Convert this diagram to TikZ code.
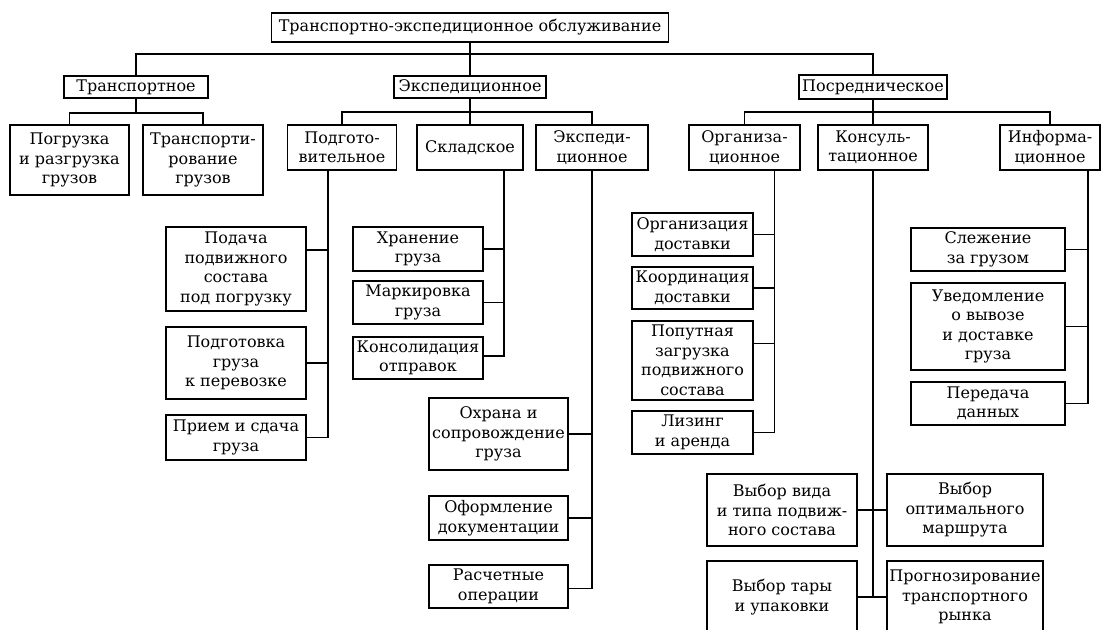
\documentclass[tikz,border=0pt]{standalone}
\usepackage{fontspec}
\setmainfont{DejaVu Serif}

\begin{document}
\begin{tikzpicture}[x=1pt, y=-1pt,
  box/.style={draw, line width=1.6pt, align=center, inner sep=1.5pt,
    font=\fontsize{16}{19.5}\selectfont},
  link/.style={line width=1.6pt}]
\useasboundingbox (0,0) rectangle (1102,629);
\clip (0,0) rectangle (1102,629);
\fill[white] (0,0) rectangle (1102,629);

\node[box, minimum width=397, minimum height=29] (root) at (470,27.5) {Транспортно-экспедиционное обслуживание};

\node[box, minimum width=144, minimum height=22] (trans) at (136,87) {Транспортное};
\node[box, minimum width=152, minimum height=22] (exped) at (470,87) {Экспедиционное};
\node[box, minimum width=148, minimum height=24] (posr) at (873,87) {Посредническое};

\node[box, minimum width=119, minimum height=70] (pogr) at (69.5,160) {Погрузка\\и разгрузка\\грузов};
\node[box, minimum width=120, minimum height=70] (perev) at (203,160) {Транспорти-\\рование\\грузов};
\node[box, minimum width=109, minimum height=45] (podg) at (342,147.5) {Подгото-\\вительное};
\node[box, minimum width=106, minimum height=45] (sklad) at (470,147.5) {Складское};
\node[box, minimum width=112, minimum height=45] (exsub) at (592,147.5) {Экспеди-\\ционное};
\node[box, minimum width=111, minimum height=45] (org) at (744.5,147.5) {Организа-\\ционное};
\node[box, minimum width=110, minimum height=45] (kons) at (873,147.5) {Консуль-\\тационное};
\node[box, minimum width=100, minimum height=45] (inf) at (1050,147.5) {Информа-\\ционное};

\node[box, minimum width=140, minimum height=84] (podacha) at (236,269) {Подача\\подвижного\\состава\\под погрузку};
\node[box, minimum width=140, minimum height=72] (podgot) at (236,363) {Подготовка\\груза\\к перевозке};
\node[box, minimum width=140, minimum height=45] (priem) at (236,437.5) {Прием и сдача\\груза};

\node[box, minimum width=130, minimum height=44] (hran) at (418,249) {Хранение\\груза};
\node[box, minimum width=130, minimum height=43] (mark) at (418,302.5) {Маркировка\\груза};
\node[box, minimum width=130, minimum height=42] (konsol) at (418,358) {Консолидация\\отправок};

\node[box, minimum width=139, minimum height=72] (ohrana) at (498.5,434) {Охрана и\\сопровождение\\груза};
\node[box, minimum width=139, minimum height=44] (oform) at (498.5,518) {Оформление\\документации};
\node[box, minimum width=139, minimum height=43] (raschet) at (498.5,586.5) {Расчетные\\операции};

\node[box, minimum width=121, minimum height=43] (orgdost) at (692.5,234.5) {Организация\\доставки};
\node[box, minimum width=121, minimum height=42] (koord) at (692.5,288) {Координация\\доставки};
\node[box, minimum width=121, minimum height=79] (poput) at (692.5,360.5) {Попутная\\загрузка\\подвижного\\состава};
\node[box, minimum width=121, minimum height=43] (lizing) at (692.5,432.5) {Лизинг\\и аренда};

\node[box, minimum width=154, minimum height=43] (slezh) at (988,249.5) {Слежение\\за грузом};
\node[box, minimum width=154, minimum height=87] (uved) at (988,326.5) {Уведомление\\о вывозе\\и доставке\\груза};
\node[box, minimum width=154, minimum height=43] (pered) at (988,403.5) {Передача\\данных};

\node[box, minimum width=150, minimum height=72] (vybvid) at (782,510) {Выбор вида\\и типа подвиж-\\ного состава};
\node[box, minimum width=156, minimum height=72] (vybopt) at (965,510) {Выбор\\оптимального\\маршрута};
\node[box, minimum width=150, minimum height=72] (vybtar) at (782,597) {Выбор тары\\и упаковки};
\node[box, minimum width=156, minimum height=72] (prognoz) at (965,597) {Прогнозирование\\транспортного\\рынка};

\coordinate (b0) at (470,54);
\draw[link] (root) -- (exped);
\draw[link] (trans.north) |- (b0) -| (posr.north);
\draw[link] (trans.south) -- ++(0,14) coordinate (b1);
\draw[link] (pogr.north) |- (b1) -| (perev.north);
\draw[link] (exped) -- (sklad);
\coordinate (b2) at (470,112);
\draw[link] (podg.north) |- (b2) -| (exsub.north);
\draw[link] (posr) -- (kons);
\coordinate (b3) at (873,112);
\draw[link] (org.north) |- (b3) -| (inf.north);

\coordinate (v1) at ([xshift=-14pt]podg.south);
\draw[link] ([yshift=19pt]podacha.east) -| (v1);
\draw[link] (podgot.east) -| (v1);
\draw[link] (priem.east) -| (v1);

\coordinate (v2) at ([xshift=34pt]sklad.south);
\draw[link] (hran.east) -| (v2);
\draw[link] (mark.east) -| (v2);
\draw[link] ([yshift=2pt]konsol.east) -| (v2);

\coordinate (v3) at (exsub.south);
\draw[link] (ohrana.east) -| (v3);
\draw[link] (oform.east) -| (v3);
\draw[link] ([yshift=-2pt]raschet.east) -| (v3);

\coordinate (v4) at ([xshift=30pt]org.south);
\draw[link] (orgdost.east) -| (v4);
\draw[link] (koord.east) -| (v4);
\draw[link] ([yshift=17pt]poput.east) -| (v4);
\draw[link] (lizing.east) -| (v4);

\coordinate (v5) at (kons.south);
\draw[link] (vybvid.east) -| (v5);
\draw[link] (vybopt.west) -| (v5);
\draw[link] (vybtar.east) -| (v5);
\draw[link] (prognoz.west) -| (v5);

\coordinate (v6) at ([xshift=38pt]inf.south);
\draw[link] (slezh.east) -| (v6);
\draw[link] (uved.east) -| (v6);
\draw[link] (pered.east) -| (v6);
\end{tikzpicture}
\end{document}
